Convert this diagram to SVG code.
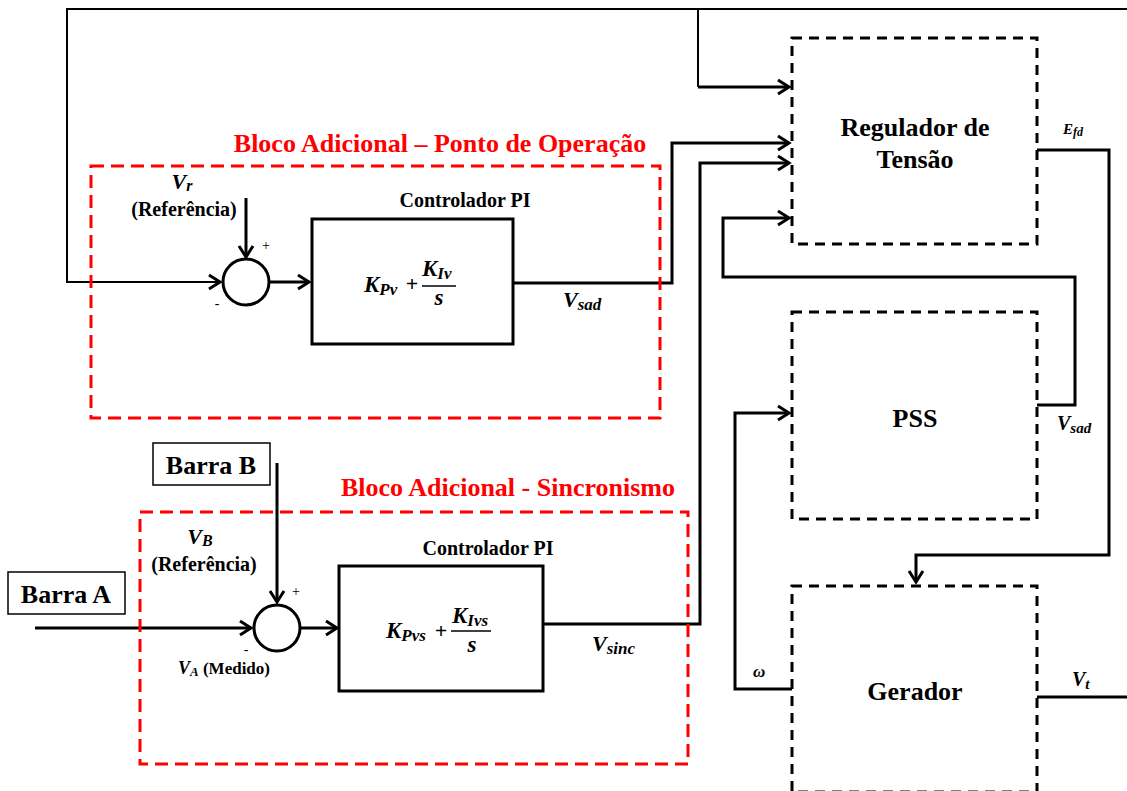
<svg xmlns="http://www.w3.org/2000/svg" width="1127" height="791" viewBox="0 0 1127 791">
<defs>
<marker id="arr" markerUnits="userSpaceOnUse" markerWidth="16" markerHeight="16" refX="12" refY="7" orient="auto" overflow="visible">
<path d="M1,0 L12,7 L1,14" fill="none" stroke="#000" stroke-width="3"/>
</marker>
<style>
.ln{fill:none;stroke:#000;stroke-width:3;}
.thin{fill:none;stroke:#000;stroke-width:2;}
.blk{fill:#fff;stroke:#000;stroke-width:3;}
.dash{fill:none;stroke:#000;stroke-width:3;stroke-dasharray:10 7;}
.red{fill:none;stroke:#f00;stroke-width:3;stroke-dasharray:13 7;}
.t{font-family:"Liberation Serif",serif;font-weight:bold;fill:#000;}
.rt{font-family:"Liberation Serif",serif;font-weight:bold;fill:#f00;font-size:26px;}
.m{font-family:"Liberation Serif",serif;font-weight:bold;font-style:italic;fill:#000;}
.s{font-family:"Liberation Serif",serif;fill:#000;font-size:14px;}
</style>
</defs>
<rect width="1127" height="791" fill="#fff"/>

<g id="connectors">
<path class="thin" d="M1127,9 H67 V282 H220" marker-end="url(#arr)"/>
<path class="thin" d="M698,9 V87" />
<path class="ln" d="M698,87 H789" marker-end="url(#arr)"/>
<path class="ln" d="M246,198 V257" marker-end="url(#arr)"/>
<path class="ln" d="M270,282 H309" marker-end="url(#arr)"/>
<path class="ln" d="M513,283 H672 V143 H789" marker-end="url(#arr)"/>
<path class="ln" d="M543,624 H700 V163 H789" marker-end="url(#arr)"/>
<path class="ln" d="M1037,405 H1075 V277 H723 V218 H789" marker-end="url(#arr)"/>
<path class="ln" d="M1037,150 H1109 V555 H916 V582" marker-end="url(#arr)"/>
<path class="ln" d="M792,689 H735 V413 H789" marker-end="url(#arr)"/>
<path class="ln" d="M1037,697 H1127"/>
<path class="ln" d="M35,628 H251" marker-end="url(#arr)"/>
<path class="ln" d="M277,463 V602" marker-end="url(#arr)"/>
<path class="ln" d="M301,628 H337" marker-end="url(#arr)"/>
</g>

<g id="bloco-ponto-operacao">
<rect class="red" x="91" y="166" width="569" height="252"/>
<text class="rt" x="440" y="152" text-anchor="middle">Bloco Adicional – Ponto de Operação</text>
</g>

<g id="bloco-sincronismo">
<rect class="red" x="140" y="512" width="548" height="252"/>
<text class="rt" x="508" y="496" text-anchor="middle">Bloco Adicional - Sincronismo</text>
</g>

<g id="soma1">
<circle class="blk" cx="246" cy="282" r="23"/>
<text class="s" x="266" y="250" text-anchor="middle">+</text>
<text class="s" x="217" y="308" text-anchor="middle">-</text>
<text class="m" x="182" y="189" text-anchor="middle" font-size="22">V<tspan font-size="16" dy="2">r</tspan></text>
<text class="t" x="184" y="216" text-anchor="middle" font-size="20">(Referência)</text>
</g>

<g id="pi1">
<rect class="blk" x="312" y="219" width="201" height="125"/>
<text class="t" x="465" y="207" text-anchor="middle" font-size="20">Controlador PI</text>
<text class="m" x="364" y="292" font-size="23">K<tspan font-size="17" dy="3">Pv</tspan></text>
<text class="t" x="412" y="291" text-anchor="middle" font-size="22" font-weight="normal">+</text>
<text class="m" x="422" y="276" font-size="23">K<tspan font-size="17" dy="3">Iv</tspan></text>
<line x1="422" y1="286" x2="456" y2="286" stroke="#000" stroke-width="1.5"/>
<text class="m" x="439" y="305" text-anchor="middle" font-size="23">s</text>
<text class="m" x="563" y="307" font-size="22">V<tspan font-size="17" dy="3">sad</tspan></text>
</g>

<g id="barraB">
<rect x="153" y="443" width="117" height="42" fill="#fff" stroke="#000" stroke-width="1.5"/>
<text class="t" x="211" y="474" text-anchor="middle" font-size="26">Barra B</text>
</g>

<g id="barraA">
<rect x="8" y="572" width="117" height="42" fill="#fff" stroke="#000" stroke-width="1.5"/>
<text class="t" x="66" y="603" text-anchor="middle" font-size="26">Barra A</text>
</g>

<g id="soma2">
<circle class="blk" cx="277" cy="628" r="23"/>
<text class="s" x="296" y="596" text-anchor="middle">+</text>
<text class="s" x="246" y="654" text-anchor="middle">-</text>
<text class="m" x="200" y="544" text-anchor="middle" font-size="22">V<tspan font-size="16" dy="2">B</tspan></text>
<text class="t" x="204" y="571" text-anchor="middle" font-size="20">(Referência)</text>
<text class="m" x="178" y="674" font-size="18">V<tspan font-size="13" dy="2">A</tspan><tspan class="t" font-style="normal" font-size="17" dy="-2"> (Medido)</tspan></text>
</g>

<g id="pi2">
<rect class="blk" x="339" y="566" width="204" height="125"/>
<text class="t" x="488" y="555" text-anchor="middle" font-size="20">Controlador PI</text>
<text class="m" x="386" y="638" font-size="23">K<tspan font-size="17" dy="3">Pvs</tspan></text>
<text class="t" x="441" y="638" text-anchor="middle" font-size="22" font-weight="normal">+</text>
<text class="m" x="452" y="623" font-size="23">K<tspan font-size="17" dy="3">Ivs</tspan></text>
<line x1="451" y1="631" x2="491" y2="631" stroke="#000" stroke-width="1.5"/>
<text class="m" x="472" y="652" text-anchor="middle" font-size="23">s</text>
<text class="m" x="592" y="651" font-size="22">V<tspan font-size="17" dy="3">sinc</tspan></text>
</g>

<g id="regulador">
<rect class="dash" x="792" y="38" width="245" height="206"/>
<text class="t" x="915" y="136" text-anchor="middle" font-size="26">Regulador de</text>
<text class="t" x="915" y="168" text-anchor="middle" font-size="26">Tensão</text>
<text class="m" x="1063" y="134" font-size="15">E<tspan font-size="12" dy="2">fd</tspan></text>
</g>

<g id="pss">
<rect class="dash" x="792" y="312" width="245" height="207"/>
<text class="t" x="915" y="427" text-anchor="middle" font-size="26">PSS</text>
<text class="m" x="1057" y="430" font-size="20">V<tspan font-size="15" dy="3">sad</tspan></text>
</g>

<g id="gerador">
<rect class="dash" x="792" y="586" width="245" height="206"/>
<text class="t" x="915" y="700" text-anchor="middle" font-size="26">Gerador</text>
<text class="m" x="753" y="677" font-size="17">ω</text>
<text class="m" x="1072" y="686" font-size="20">V<tspan font-size="15" dy="3">t</tspan></text>
</g>
</svg>
